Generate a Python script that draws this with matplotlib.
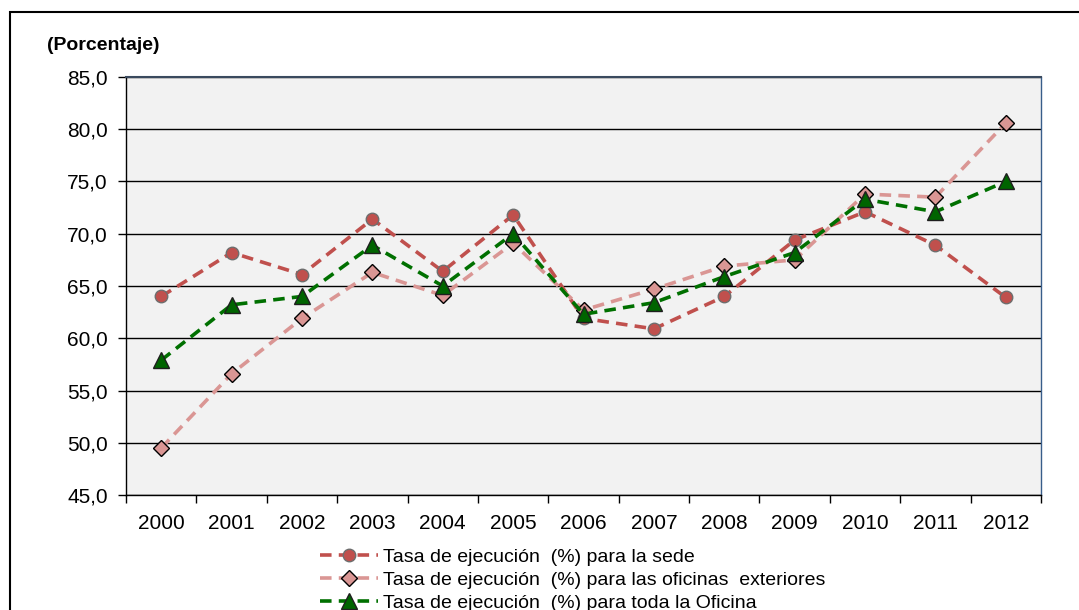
import numpy as np
import matplotlib.pyplot as plt
from matplotlib.patches import Rectangle

plt.rcParams['font.family'] = ['Liberation Sans', 'DejaVu Sans']

years = ['2000', '2001', '2002', '2003', '2004', '2005', '2006',
         '2007', '2008', '2009', '2010', '2011', '2012']
sede = [64.0, 68.2, 66.1, 71.4, 66.4, 71.8, 61.9, 60.9, 64.0, 69.4, 72.1, 68.9, 63.9]
exteriores = [49.5, 56.6, 61.9, 66.3, 64.1, 69.1, 62.7, 64.7, 66.9, 67.5, 73.8, 73.5, 80.6]
oficina = [57.9, 63.2, 64.0, 68.9, 65.0, 70.0, 62.3, 63.4, 65.9, 68.2, 73.3, 72.1, 75.0]

labels = ['Tasa de ejecución  (%) para la sede',
          'Tasa de ejecución  (%) para las oficinas  exteriores',
          'Tasa de ejecución  (%) para toda la Oficina']

fig = plt.figure(figsize=(10.79, 6.10), dpi=100)
ax = fig.add_axes([0.1168, 0.1885, 0.848, 0.6853])
ax.set_facecolor('#F2F2F2')

x = np.arange(len(years))
dash = (3.2, 2.0)

l1, = ax.plot(x, sede, color='#C0504D', lw=2.6, dashes=dash, marker='o', ms=9,
              mfc='#C0504D', mec='#6E6E6E', mew=1.0, zorder=3)
l2, = ax.plot(x, exteriores, color='#DA9694', lw=2.6, dashes=dash, marker='D', ms=8,
              mfc='#DA9694', mec='black', mew=1.0, zorder=3)
l3, = ax.plot(x, oficina, color='#007000', lw=2.6, dashes=dash, marker='^', ms=11,
              mfc='#006400', mec='#1E1E1E', mew=1.0, zorder=4)

ax.set_ylim(45, 85)
ax.set_xlim(-0.5, len(years) - 0.5)
ax.set_yticks(np.arange(45, 86, 5))
ax.set_yticklabels([('%.1f' % v).replace('.', ',') for v in np.arange(45, 86, 5)])
ax.set_xticks(x)
ax.set_xticklabels(years)
ax.set_xticks(np.arange(-0.5, len(years)), minor=True)
ax.tick_params(axis='x', which='major', length=0, pad=14, labelsize=15)
ax.tick_params(axis='x', which='minor', length=6, width=1.0, direction='out')
ax.tick_params(axis='y', length=6, width=1.0, direction='out', pad=7, labelsize=15)
ax.yaxis.grid(True, color='black', lw=1.0)
ax.set_axisbelow(True)

for s in ['left', 'bottom']:
    ax.spines[s].set_color('black')
    ax.spines[s].set_linewidth(1.0)
ax.spines['right'].set_color('#385D8A')
ax.spines['right'].set_linewidth(1.0)
ax.spines['top'].set_color('#3A4A5E')
ax.spines['top'].set_linewidth(1.5)

fig.text(0.044, 0.926, '(Porcentaje)', fontsize=14, fontweight='bold', va='center')

fig.legend([l1, l2, l3], labels, loc='upper left', bbox_to_anchor=(0.2873, 0.117),
           frameon=False, fontsize=14, handlelength=3.0, handletextpad=0.25,
           labelspacing=0.28, borderpad=0)

fig.patches.append(Rectangle((0.0093, -0.05), 1.1, 1.03, transform=fig.transFigure,
                             fill=False, edgecolor='black', lw=1.5))

fig.savefig('out.png', dpi=100)
